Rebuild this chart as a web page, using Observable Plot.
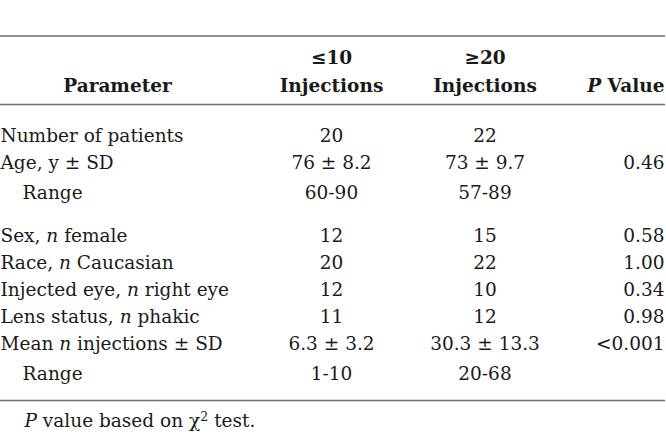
<!DOCTYPE html>
<html>
<head>
<meta charset="utf-8">
<script src="https://cdn.jsdelivr.net/npm/d3@7"></script>
<script src="https://cdn.jsdelivr.net/npm/@observablehq/plot@0.6"></script>
<style>
  html, body { margin: 0; padding: 0; background: #fff; }
  #chart svg { display: block; }
</style>
</head>
<body>
<div id="chart"></div>
<script>
// ---- table content ----
const parameters = [
  "Number of patients",
  "Age, y ± SD",
  "Range",
  "Sex, n female",
  "Race, n Caucasian",
  "Injected eye, n right eye",
  "Lens status, n phakic",
  "Mean n injections ± SD",
  "Range"
];
const isSubRow = [false, false, true, false, false, false, false, false, true];
const groupStart = [false, false, false, true, false, false, false, false, false];
const lowInjections = ["20", "76 ± 8.2", "60-90", "12", "20", "12", "11", "6.3 ± 3.2", "1-10"];
const highInjections = ["22", "73 ± 9.7", "57-89", "15", "22", "10", "12", "30.3 ± 13.3", "20-68"];
const pValues = ["", "0.46", "", "0.58", "1.00", "0.34", "0.98", "<0.001", ""];
const columnGroups = ["≤10", "≥20"];
const columnUnit = "Injections";
const headerParameter = "Parameter";
const headerP = "P Value";
const footnote = "P value based on χ² test.";
const italicTokens = ["n", "P"];

// ---- layout (pixels in the 666 x 438 frame) ----
const W = 666, H = 438;
const L = {
  fontSize: 18.5,
  textColor: "#1a1a1a",
  ruleColor: "#6e6e6e",
  topRule: 35.5, headRule: 104, bottomRule: 400,
  head1: 57.5, head2: 85.5,
  firstRow: 136, pitch: 27, subExtra: 3, groupGap: 16,
  footY: 421,
  xLabel: 0, xSub: 22, xFoot: 24,
  xParamHead: 117, xLow: 331, xHigh: 484.5, xP: 664
};

// row centres computed from the row structure
const rowY = [];
parameters.forEach((_, i) => {
  if (i === 0) { rowY.push(L.firstRow); return; }
  let y = rowY[i - 1] + L.pitch;
  if (isSubRow[i]) y += L.subExtra;
  if (groupStart[i]) y += L.groupGap;
  rowY.push(y);
});

const rows = parameters.map((p, i) => ({
  label: p, sub: isSubRow[i], low: lowInjections[i], high: highInjections[i], p: pValues[i], y: rowY[i]
}));
const groupCols = columnGroups.map((g, i) => ({label: g, x: i === 0 ? L.xLow : L.xHigh}));

const common = {fill: L.textColor, fontSize: L.fontSize, lineAnchor: "middle"};

const svg = Plot.plot({
  width: W, height: H, margin: 0,
  x: {domain: [0, W], range: [0, W], axis: null},
  y: {domain: [0, H], range: [0, H], axis: null},
  style: {fontFamily: "'DejaVu Serif', serif", fontSize: L.fontSize + "px", background: "#fff", color: L.textColor},
  marks: [
    // rules
    Plot.ruleY([L.topRule, L.headRule, L.bottomRule], {x1: 0, x2: W - 1, stroke: L.ruleColor, strokeWidth: 1.6}),
    // header
    Plot.text([headerParameter], {x: L.xParamHead, y: L.head2, text: d => d, textAnchor: "middle", fontWeight: "bold", ...common}),
    Plot.text(groupCols, {x: "x", y: L.head1, text: "label", textAnchor: "middle", fontWeight: "bold", ...common}),
    Plot.text(groupCols, {x: "x", y: L.head2, text: () => columnUnit, textAnchor: "middle", fontWeight: "bold", ...common}),
    Plot.text([headerP], {x: L.xP, y: L.head2, text: d => d, textAnchor: "end", fontWeight: "bold", ...common}),
    // body
    Plot.text(rows, {x: d => d.sub ? L.xSub : L.xLabel, y: "y", text: "label", textAnchor: "start", ...common}),
    Plot.text(rows, {x: L.xLow, y: "y", text: "low", textAnchor: "middle", ...common}),
    Plot.text(rows, {x: L.xHigh, y: "y", text: "high", textAnchor: "middle", ...common}),
    Plot.text(rows, {x: L.xP, y: "y", text: "p", textAnchor: "end", ...common}),
    // footnote
    Plot.text([footnote], {x: L.xFoot, y: L.footY, text: d => d, textAnchor: "start", ...common})
  ]
});

// italicise single-letter variables (n, P) and raise the χ² exponent, keeping real text
const NS = "http://www.w3.org/2000/svg";
d3.select(svg).selectAll("text").each(function () {
  const node = this;
  if (node.querySelector("tspan")) return;
  const s = node.textContent;
  const parts = s.split(/(\s+|²)/);
  if (!parts.some(p => italicTokens.includes(p) || p === "²")) return;
  node.textContent = "";
  let raised = false;
  parts.forEach(p => {
    if (p === "") return;
    const t = document.createElementNS(NS, "tspan");
    if (italicTokens.includes(p)) {
      t.setAttribute("font-style", "italic");
      t.textContent = p;
    } else if (p === "²") {
      t.setAttribute("font-size", "0.68em");
      t.setAttribute("dy", "-0.55em");
      t.textContent = "2";
      raised = true;
      node.appendChild(t);
      return;
    } else {
      t.textContent = p;
      if (raised) { t.setAttribute("dy", "0.374em"); raised = false; }
    }
    node.appendChild(t);
  });
});

document.getElementById("chart").appendChild(svg);
</script>
</body>
</html>
